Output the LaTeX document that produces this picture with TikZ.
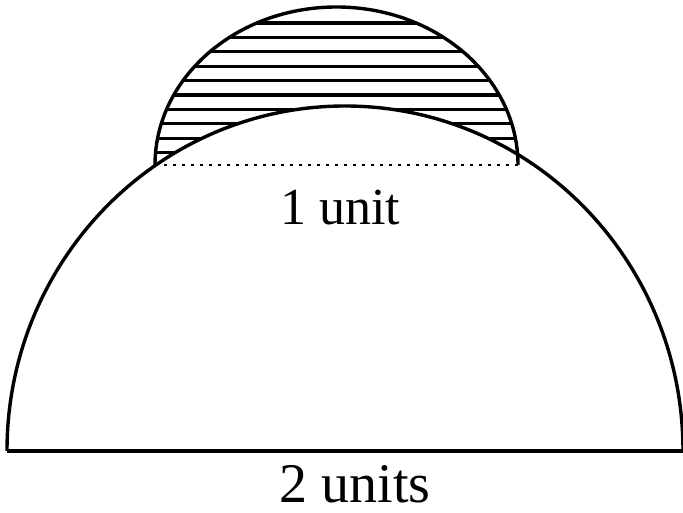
\documentclass[tikz,border=0pt]{standalone}
\usepackage{fontspec}
\setmainfont{Liberation Serif}
\begin{document}
\begin{tikzpicture}[x=1pt,y=1pt,
  outline/.style={line width=3.4pt, black, line join=round},
  hatchline/.style={line width=3.2pt, black},
  chord/.style={line width=2.6pt, black, dash pattern=on 2.6pt off 6.4pt},
  lbl/.style={font=\fontsize{52}{60}\selectfont, inner sep=0pt, text=black},
  lblb/.style={font=\fontsize{56}{64}\selectfont, inner sep=0pt, text=black}]
\useasboundingbox (0,0) rectangle (683,513);
\coordinate (BL) at (7,62);
\coordinate (BR) at (683,62);
\coordinate (L) at (155,348);
\coordinate (R) at (518,348);
% hatching inside small half-ellipse
\begin{scope}
  \clip (L) arc[start angle=180, end angle=0, x radius=181.5, y radius=158] -- cycle;
  \foreach \i in {0,...,9}
    \draw[hatchline] (140,{490-\i*14.4}) -- (540,{490-\i*14.4});
\end{scope}
% big half-ellipse covers hatching
\fill[white] (BL) arc[start angle=180, end angle=0, x radius=338, y radius=345] -- cycle;
% outlines
\draw[outline] (L) arc[start angle=180, end angle=0, x radius=181.5, y radius=158];
\draw[outline] (BL) arc[start angle=180, end angle=0, x radius=338, y radius=345];
\draw[outline] (BL) -- (BR);
\draw[chord] (L) -- (R);
% labels
\node[lbl] (one) at (340,305) {1 unit};
\node[lblb] (two) at (355,29) {2 units};
\end{tikzpicture}
\end{document}
